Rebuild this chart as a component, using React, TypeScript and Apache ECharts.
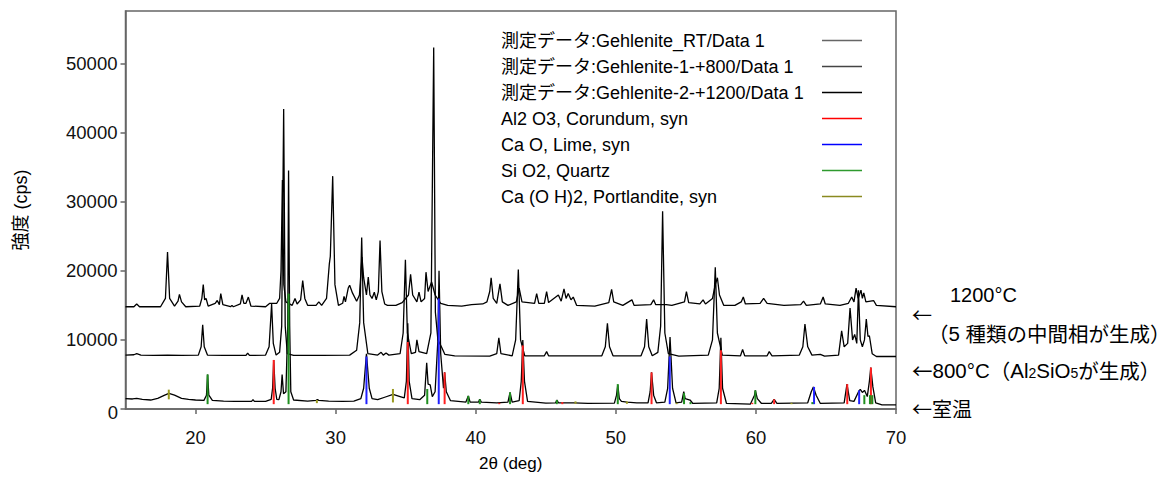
import React, { useEffect, useRef } from "react";
import * as echarts from "echarts";

const FONT = "'Liberation Sans', Arial, 'Noto Sans CJK JP', sans-serif";
const CJK = "'Noto Sans CJK JP', sans-serif";

const seriesNames = [
  "測定データ:Gehlenite_RT/Data 1",
  "測定データ:Gehlenite-1-+800/Data 1",
  "測定データ:Gehlenite-2-+1200/Data 1",
  "Al2 O3, Corundum, syn",
  "Ca O, Lime, syn",
  "Si O2, Quartz",
  "Ca (O H)2, Portlandite, syn",
];

const xTicks = [20, 30, 40, 50, 60, 70];
const yTicks = [0, 10000, 20000, 30000, 40000, 50000];

// Room-temperature pattern [2θ, cps]
const rtData = [
  [15.0, 1500], [15.5, 1450], [15.8, 1550], [16.2, 1400], [16.8, 1300], [17.3, 1550], [17.8, 2000], [18.1, 2250], [18.5, 2000],
  [19.0, 1550], [19.5, 1400], [20.0, 1300], [20.6, 1250], [20.78, 2000], [20.86, 5000], [20.95, 2000], [21.2, 1250], [22.0, 1150],
  [22.8, 1100], [24.0, 1100], [24.1, 1350], [24.2, 1100], [25.0, 1100], [25.4, 1400], [25.5, 3000], [25.58, 7100], [25.68, 3000],
  [25.8, 1400], [25.95, 1350], [26.1, 2500], [26.18, 5000], [26.28, 2200], [26.45, 2500], [26.58, 12000], [26.64, 34500],
  [26.72, 12000], [26.8, 2500], [27.0, 1300], [28.0, 1150], [28.6, 1250], [28.7, 1350], [28.8, 1250], [29.5, 1150], [30.5, 1100],
  [31.3, 1150], [31.8, 1500], [32.0, 3000], [32.2, 8000], [32.4, 3000], [32.6, 1500], [33.0, 1350], [33.5, 1700], [34.1, 2100],
  [34.6, 1800], [34.9, 1600], [35.05, 4000], [35.15, 12400], [35.25, 4000], [35.45, 1500], [36.0, 1350], [36.35, 2000],
  [36.5, 6700], [36.6, 3600], [36.75, 3500], [36.9, 1800], [37.1, 2500], [37.3, 10000], [37.38, 20000], [37.5, 8000],
  [37.7, 3000], [37.78, 5300], [37.9, 2500], [38.2, 1200], [39.3, 1000], [39.47, 1900], [39.6, 1000], [40.2, 1000],
  [40.29, 1400], [40.4, 1000], [41.5, 900], [42.3, 1000], [42.45, 2400], [42.6, 1000], [43.1, 1200], [43.25, 4000],
  [43.36, 10000], [43.48, 4000], [43.7, 1100], [45.0, 850], [45.7, 900], [45.8, 1300], [45.9, 900], [46.2, 900], [47.0, 900],
  [48.0, 800], [49.9, 850], [50.05, 2000], [50.14, 3500], [50.25, 1500], [50.4, 1100], [50.8, 1000], [51.5, 900], [52.3, 900],
  [52.45, 2500], [52.55, 5300], [52.7, 2000], [52.9, 900], [53.5, 1000], [53.7, 3000], [53.87, 10400], [54.05, 3000],
  [54.3, 900], [54.7, 1000], [54.85, 2500], [54.95, 1500], [55.3, 1300], [55.5, 800], [57.2, 900], [57.38, 3000],
  [57.5, 10300], [57.62, 3000], [57.9, 800], [59.6, 700], [59.9, 2000], [59.96, 2700], [60.1, 1500], [60.4, 800], [61.1, 800],
  [61.3, 1400], [61.5, 800], [63.7, 900], [63.95, 2500], [64.1, 3200], [64.3, 2000], [64.6, 800], [66.3, 900], [66.5, 3600],
  [66.7, 1200], [67.0, 1100], [67.35, 2600], [67.45, 2850], [67.6, 2400], [67.75, 2700], [67.95, 1800], [68.1, 4000],
  [68.2, 6000], [68.35, 3200], [68.55, 900], [69.0, 600], [70.0, 600],
];

// 800 °C pattern
const d800Data = [
  [15.0, 7800], [15.6, 7850], [15.8, 8000], [16.1, 7800], [17.0, 7750], [18.0, 7800], [19.0, 7750], [20.2, 7800], [20.4, 9000],
  [20.51, 12200], [20.62, 9000], [20.85, 7800], [22.0, 7750], [23.6, 7750], [23.72, 8100], [23.85, 7750], [25.0, 7800],
  [25.25, 9000], [25.43, 15200], [25.55, 9500], [25.75, 7800], [26.0, 8200], [26.15, 12000], [26.29, 43400], [26.4, 12000],
  [26.55, 8000], [27.0, 7750], [29.0, 7750], [31.0, 7800], [31.5, 8500], [31.72, 12500], [31.86, 24800], [32.0, 12500],
  [32.3, 8000], [33.0, 7800], [33.25, 8200], [33.4, 7800], [33.6, 8100], [33.8, 7800], [34.6, 8000], [34.82, 11000],
  [34.98, 21600], [35.12, 11000], [35.4, 8000], [35.7, 8200], [35.8, 10000], [35.95, 8300], [36.5, 8000], [36.8, 11000],
  [37.0, 52300], [37.12, 14000], [37.3, 10000], [37.55, 9000], [37.8, 7900], [38.5, 7700], [41.0, 7650], [41.5, 8000],
  [41.65, 10300], [41.8, 8000], [42.6, 7700], [42.85, 10000], [43.04, 20200], [43.2, 10000], [43.5, 7700], [44.9, 7700],
  [45.06, 8300], [45.2, 7700], [49.0, 7700], [49.25, 9000], [49.4, 12400], [49.55, 9000], [49.8, 7700], [51.8, 7700],
  [52.05, 9000], [52.2, 13000], [52.35, 9000], [52.6, 7700], [53.0, 8200], [53.2, 12000], [53.34, 28600], [53.5, 11000],
  [53.75, 8000], [54.5, 7650], [56.6, 7800], [56.9, 10000], [57.1, 20500], [57.25, 11000], [57.6, 7800], [58.9, 7700],
  [59.05, 8600], [59.2, 7700], [60.8, 7700], [60.95, 8300], [61.15, 7700], [63.1, 7800], [63.35, 9000], [63.5, 12300],
  [63.7, 9000], [64.0, 7800], [64.6, 7900], [64.9, 7650], [65.9, 7800], [66.12, 11300], [66.3, 9000], [66.55, 9500],
  [66.72, 14600], [66.9, 10000], [67.05, 10800], [67.2, 9500], [67.32, 17200], [67.45, 10000], [67.6, 9000], [67.75, 10000],
  [67.88, 13000], [68.0, 10500], [68.1, 10600], [68.3, 8000], [68.6, 7600], [70.0, 7600],
];

// 1200 °C pattern
const d1200Data = [
  [15.0, 14800], [15.6, 14800], [15.8, 15200], [16.0, 14800], [17.5, 14800], [17.85, 16000], [18.0, 22700], [18.15, 16000],
  [18.5, 14900], [18.75, 15600], [18.85, 16600], [19.0, 15500], [19.3, 14800], [20.3, 14900], [20.45, 16000], [20.55, 18000],
  [20.65, 15800], [20.75, 16000], [20.9, 14900], [21.4, 15300], [21.55, 15700], [21.7, 15100], [21.8, 16700], [21.95, 15100],
  [22.5, 14800], [22.6, 15000], [22.7, 14800], [23.2, 15200], [23.32, 16500], [23.45, 15300], [23.6, 15300], [23.77, 16200],
  [23.95, 14900], [25.0, 14800], [25.3, 15300], [25.8, 15300], [26.0, 16000], [26.1, 20000], [26.2, 33150], [26.3, 18000],
  [26.45, 15500], [26.9, 15000], [27.1, 16000], [27.25, 15200], [27.5, 15800], [27.65, 18600], [27.8, 16000], [28.0, 15000],
  [28.6, 15000], [28.8, 15500], [29.0, 15000], [29.35, 16000], [29.55, 21000], [29.62, 22100], [29.79, 33700], [29.95, 18000],
  [30.2, 15000], [30.5, 15300], [30.6, 16300], [30.7, 15500], [30.9, 17500], [31.0, 17900], [31.2, 16800], [31.5, 15600],
  [31.7, 16500], [31.88, 22000], [32.0, 19000], [32.2, 16500], [32.33, 19100], [32.45, 16500], [32.6, 16000], [32.76, 16900],
  [32.9, 15800], [33.05, 17000], [33.17, 24400], [33.3, 17000], [33.5, 15200], [33.7, 15000], [34.3, 15000], [34.75, 15400],
  [35.2, 16500], [35.35, 19500], [35.5, 16500], [35.8, 15500], [35.95, 16900], [36.1, 15500], [36.35, 16000], [36.45, 19800],
  [36.6, 17000], [36.85, 18400], [37.1, 16500], [37.5, 15300], [38.0, 15000], [39.0, 14900], [39.7, 15100], [40.5, 15200],
  [40.8, 15500], [41.0, 17000], [41.1, 19000], [41.25, 16000], [41.5, 15300], [41.73, 18100], [41.9, 15500], [42.3, 15000],
  [42.9, 15500], [43.1, 17500], [43.3, 15500], [43.75, 15400], [44.2, 15300], [44.35, 16700], [44.5, 15300], [44.9, 15300],
  [45.06, 17000], [45.2, 15400], [45.9, 16500], [46.1, 15600], [46.3, 17400], [46.45, 16000], [46.6, 16700], [46.8, 15800],
  [46.96, 16200], [47.2, 15000], [48.5, 14900], [49.5, 15400], [49.7, 17300], [49.85, 15500], [50.5, 15000], [51.15, 15800],
  [51.3, 15000], [52.5, 15100], [52.7, 15800], [52.85, 15100], [53.6, 15100], [54.0, 15000], [54.9, 15500], [55.04, 17000],
  [55.2, 15400], [56.0, 15200], [56.23, 15800], [56.4, 15200], [56.9, 16000], [57.1, 18000], [57.25, 19000], [57.4, 16500],
  [57.7, 15000], [58.5, 15000], [58.95, 15500], [59.1, 16200], [59.25, 15200], [60.3, 15300], [60.55, 16000], [60.8, 15300],
  [62.0, 15000], [63.2, 15100], [63.4, 15600], [63.6, 15000], [64.6, 15200], [64.8, 16200], [64.95, 15200], [66.0, 15000],
  [66.6, 15300], [66.84, 16200], [67.0, 15500], [67.15, 17500], [67.3, 16000], [67.5, 17200], [67.6, 16000], [67.7, 16800],
  [67.85, 15500], [68.4, 15700], [68.6, 15000], [70.0, 14800],
];

// Reference sticks [2θ, bottom cps, top cps]
const corundumSticks = [
  [25.58, 700, 7100], [35.15, 700, 9700], [37.78, 700, 5300], [41.68, 700, 900], [43.36, 700, 9200], [46.18, 700, 1000],
  [52.55, 700, 5300], [57.5, 700, 8500], [59.74, 700, 900], [61.3, 700, 1400], [66.52, 700, 3600], [68.21, 700, 6000],
];
const limeSticks = [
  [32.2, 700, 7600], [37.36, 700, 16000], [53.85, 700, 7600], [64.15, 700, 3200], [67.37, 700, 2700],
];
const quartzSticks = [
  [20.86, 700, 5000], [26.64, 700, 16700], [36.54, 700, 2900], [39.47, 700, 1900], [40.29, 700, 1400], [42.45, 700, 2400],
  [45.79, 700, 1300], [50.14, 700, 3600], [54.87, 700, 2300], [55.33, 700, 1000], [59.96, 700, 2700], [64.03, 700, 1000],
  [67.74, 700, 2000], [68.14, 700, 2000], [68.31, 700, 2000],
];
const portlanditeSticks = [
  [18.09, 1400, 2800], [28.66, 850, 1300], [34.09, 950, 2900], [47.12, 750, 1100], [50.79, 750, 1100], [54.34, 700, 900],
  [62.54, 700, 900],
];

const legendColors = ["#666666", "#444444", "#000000", "#ff0000", "#0000ff", "#2e9a2e", "#8a8a20"];
const stickColors = ["#ff2020", "#2020ff", "#1f8f1f", "#9a9a20"];

export default function App() {
  const ref = useRef<HTMLDivElement>(null);
  useEffect(() => {
    if (!ref.current) return;
    const chart = echarts.init(ref.current, undefined, { renderer: "svg" });

    const lineSeries = (name: string, data: number[][]) => ({
      name,
      type: "line",
      data,
      showSymbol: false,
      symbol: "none",
      lineStyle: { color: "#000", width: 1.3 },
      itemStyle: { color: "#000" },
      z: 2,
    });
    const stickSeries = (name: string, data: number[][], color: string) => ({
      name,
      type: "custom",
      data,
      encode: { x: 0, y: [1, 2] },
      itemStyle: { color },
      z: 3,
      renderItem: (params: any, api: any) => {
        const x = api.value(0);
        const p0 = api.coord([x, api.value(1)]);
        const p1 = api.coord([x, api.value(2)]);
        return {
          type: "line",
          shape: { x1: p0[0], y1: p0[1], x2: p1[0], y2: p1[1] },
          style: { stroke: color, lineWidth: 2 },
        };
      },
    });

    const richText = (text: string, x: number, y: number, size = 20, cjkSize = 20) => ({
      type: "text",
      x,
      y,
      style: {
        text,
        fill: "#000",
        align: "left",
        verticalAlign: "middle",
        textAlign: "left",
        textVerticalAlign: "middle",
        rich: {
          a: { fontSize: cjkSize, fontFamily: CJK, fill: "#000", color: "#000", lineHeight: 20 },
          n: { fontSize: size, fontFamily: FONT, fill: "#000", color: "#000", lineHeight: 20 },
          s: { fontSize: 14, fontFamily: FONT, fill: "#000", color: "#000", lineHeight: 5, verticalAlign: "bottom" },
        },
      },
    });

    const legendGraphics: any[] = [];
    seriesNames.forEach((n, i) => {
      const y = 40.5 + 26 * i;
      legendGraphics.push({
        type: "text",
        x: 501,
        y,
        style: {
          text: n,
          fill: "#000",
          fontSize: 18,
          fontFamily: FONT,
          align: "left",
          verticalAlign: "middle",
          textAlign: "left",
          textVerticalAlign: "middle",
        },
      });
      legendGraphics.push({
        type: "line",
        shape: { x1: 822, y1: y, x2: 862, y2: y },
        style: { stroke: legendColors[i], lineWidth: 1.6 },
      });
    });

    chart.setOption({
      animation: false,
      backgroundColor: "#fff",
      textStyle: { fontFamily: FONT },
      grid: {
        left: 125.5,
        right: 280,
        top: 11,
        bottom: 54.3,
        show: true,
        borderColor: "#666",
        borderWidth: 1.5,
        containLabel: false,
      },
      xAxis: {
        type: "value",
        min: 15,
        max: 70,
        name: "2θ (deg)",
        nameLocation: "middle",
        nameGap: 46,
        nameTextStyle: { fontSize: 17, color: "#000", fontFamily: FONT },
        axisLine: { show: true, lineStyle: { color: "#666", width: 1.5 } },
        axisTick: { show: true, inside: false, length: 5, lineStyle: { color: "#666", width: 1.5 }, customValues: xTicks },
        axisLabel: { fontSize: 18.5, color: "#111", margin: 19, customValues: xTicks },
        splitLine: { show: false },
      },
      yAxis: {
        type: "value",
        min: 0,
        max: 57600,
        name: "強度 (cps)",
        nameLocation: "middle",
        nameRotate: 90,
        nameGap: 96,
        nameTextStyle: { fontSize: 18, color: "#000", fontFamily: FONT },
        axisLine: { show: true, lineStyle: { color: "#666", width: 1.5 } },
        axisTick: { show: true, inside: false, length: 5, lineStyle: { color: "#666", width: 1.5 }, customValues: yTicks },
        axisLabel: {
          fontSize: 18.5,
          color: "#111",
          margin: 8,
          customValues: yTicks,
          formatter: (v: number) => (v === 0 ? "" : String(v)),
        },
        splitLine: { show: false },
      },
      graphic: [
        ...legendGraphics,
        {
          type: "text",
          x: 118,
          y: 412,
          style: {
            text: "0",
            fill: "#111",
            fontSize: 18.5,
            fontFamily: FONT,
            align: "right",
            verticalAlign: "middle",
            textAlign: "right",
            textVerticalAlign: "middle",
          },
        },
        richText("{a|←}", 912, 314),
        richText("{n|1200°C}", 950, 295),
        richText("{a|（}{n|5 }{a|種類の中間相が生成）}", 928, 333, 20.5, 20.5),
        richText("{a|←}{n|800°C}{a|（}{n|Al}{s|2}{n|SiO}{s|5}{a|が生成）}", 912, 370, 20.5, 20.5),
        richText("{a|←室温}", 912, 408),
      ],
      series: [
        lineSeries(seriesNames[0], rtData),
        lineSeries(seriesNames[1], d800Data),
        lineSeries(seriesNames[2], d1200Data),
        stickSeries(seriesNames[3], corundumSticks, stickColors[0]),
        stickSeries(seriesNames[4], limeSticks, stickColors[1]),
        stickSeries(seriesNames[5], quartzSticks, stickColors[2]),
        stickSeries(seriesNames[6], portlanditeSticks, stickColors[3]),
      ],
    });
    return () => chart.dispose();
  }, []);
  return <div ref={ref} style={{ position: "absolute", left: 0, top: 0, width: 1176, height: 477 }} />;
}
